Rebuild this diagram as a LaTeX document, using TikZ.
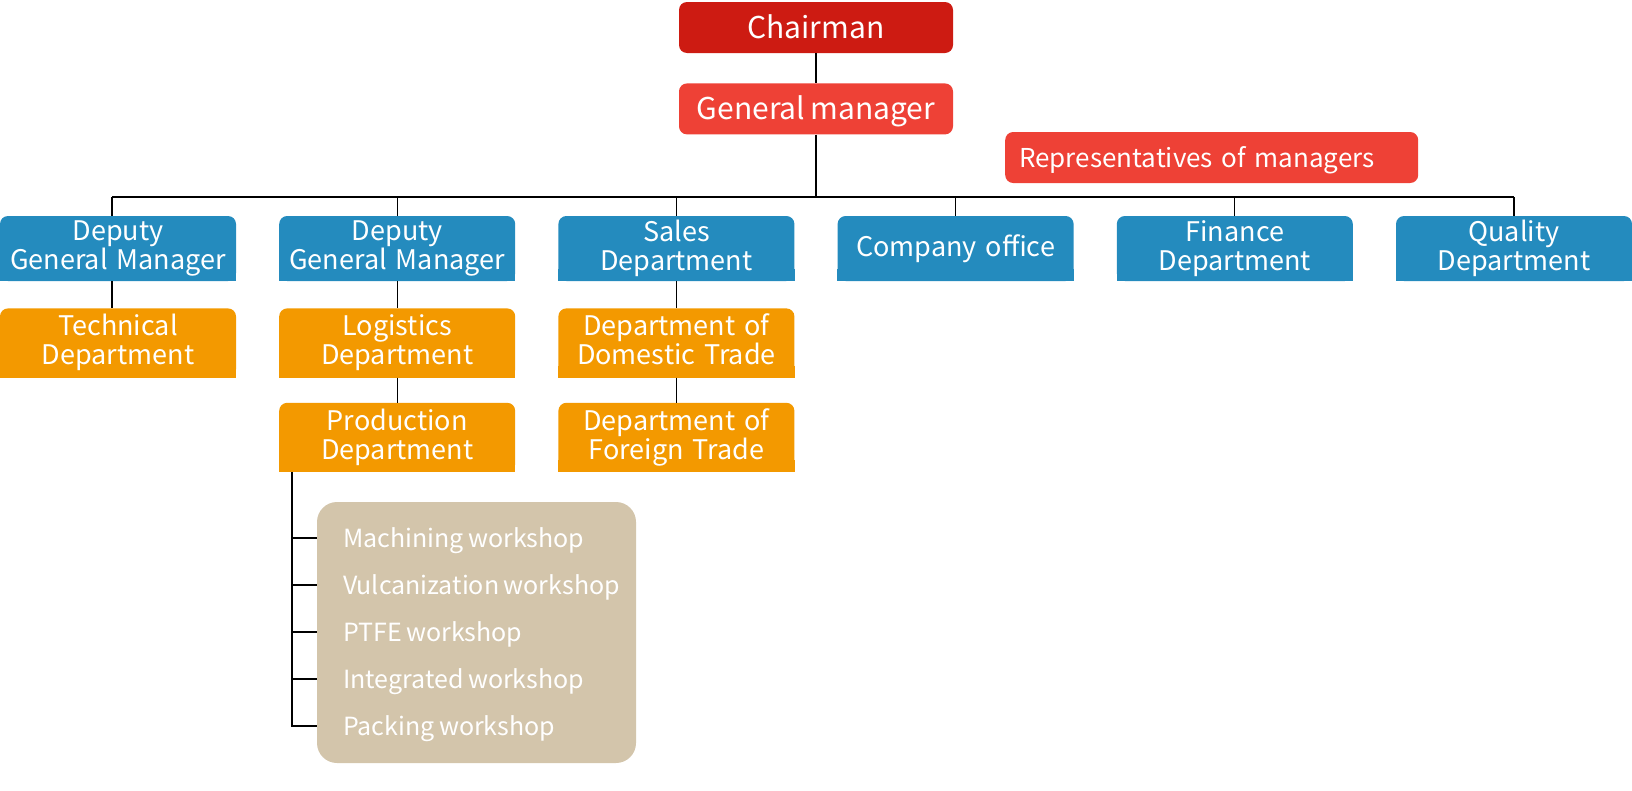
\documentclass[tikz,border=0pt]{standalone}
\usepackage{fontspec}
\setmainfont[WordSpace=0.8]{Noto Sans CJK SC}
\usetikzlibrary{positioning, backgrounds}
\definecolor{chairred}{RGB}{205,27,18}
\definecolor{mgrred}{RGB}{238,65,54}
\definecolor{deptblue}{RGB}{36,139,190}
\definecolor{deptorange}{RGB}{243,153,0}
\definecolor{wstan}{RGB}{211,197,171}
\tikzset{
  chief/.style={rounded corners=8pt, text=white, minimum width=274pt, minimum height=51pt, inner sep=0pt, text height=28pt, text depth=6pt, font=\fontsize{30}{32}\selectfont},
  dept/.style={fill=deptblue, rounded corners=8pt, text=white, text width=236pt, align=center, minimum height=65pt, inner sep=0pt, execute at end node=\vphantom{g}, font=\fontsize{27}{29}\selectfont},
  sub/.style={dept, fill=deptorange, minimum height=69pt},
  panel/.style={fill=wstan, rounded corners=20pt, minimum width=319pt, minimum height=261pt, inner sep=0pt},
  shop/.style={anchor=west, text=white, inner sep=0pt, text height=22pt, text depth=4pt, font=\fontsize{25}{27}\selectfont},
  link/.style={line width=1.2pt},
}

\begin{document}
\begin{tikzpicture}[x=1pt, y=-1pt]
  \useasboundingbox (0,0) rectangle (1632,790);

  \node[chief, fill=chairred] (chair) at (816,27.5) {Chairman};
  \node[chief, fill=mgrred, below=30pt of chair] (gm) {General manager};
  \node[chief, fill=mgrred, anchor=west, minimum width=413pt, text width=385pt, inner xsep=14pt, align=left,
        text height=24pt, text depth=5pt, font=\fontsize{26}{28}\selectfont] (rep) at (1005,157.5) {Representatives of managers};

  \node[dept] (dgmA) at (118,248.5) {Deputy\\General Manager};
  \node[dept, right=42.8pt of dgmA] (dgmB) {Deputy\\General Manager};
  \node[dept, right=42.8pt of dgmB] (sales) {Sales\\Department};
  \node[dept, right=42.8pt of sales] (office) {Company office};
  \node[dept, right=42.8pt of office] (fin) {Finance\\Department};
  \node[dept, right=42.8pt of fin] (qual) {Quality\\Department};

  \node[sub, below=27pt of dgmA] (tech) {Technical\\Department};
  \node[sub, below=27pt of dgmB] (logi) {Logistics\\Department};
  \node[sub, below=25pt of logi] (prod) {Production\\Department};
  \node[sub, below=27pt of sales] (dom) {Department of\\Domestic Trade};
  \node[sub, below=25pt of dom] (frn) {Department of\\Foreign Trade};

  % workshops
  \node[panel] (ws) at (476.5,632.5) {};
  \foreach \t [count=\i] in {Machining workshop, Vulcanization workshop, PTFE workshop, Integrated workshop, Packing workshop}
    \node[shop] (w\i) at (343,491+47*\i) {\t};

  % square bottom corners
  \begin{scope}[on background layer]
    \foreach \n/\c in {dgmA/deptblue, dgmB/deptblue, sales/deptblue, office/deptblue, fin/deptblue, qual/deptblue,
                       tech/deptorange, logi/deptorange, prod/deptorange, dom/deptorange, frn/deptorange}
      \fill[\c] (\n.south west) rectangle ([yshift=12pt]\n.south east);
  \end{scope}

  \coordinate (bus) at (816,197);
  \draw[link] (chair) -- (gm);
  \draw[link] (gm) -- (gm.south |- bus);
  \draw[link] ([xshift=-6pt]dgmA.north |- bus) -- (qual.north |- bus);
  \draw[link] ([xshift=-6pt]dgmA.north) -- ([xshift=-6pt]dgmA.north |- bus);
  \foreach \n in {dgmB, sales, office, fin, qual}
    \draw[link] (\n) -- (\n.north |- bus);
  \draw[link] ([xshift=-6pt]dgmA.south) -- ([xshift=-6pt]tech.north);
  \draw[link] (dgmB) -- (logi);
  \draw[link] (logi) -- (prod);
  \draw[link] (sales) -- (dom);
  \draw[link] (dom) -- (frn);
  \foreach \i in {1,...,5}
    \draw[link] ([xshift=13pt]prod.south west) |- (ws.west |- w\i);
\end{tikzpicture}
\end{document}
